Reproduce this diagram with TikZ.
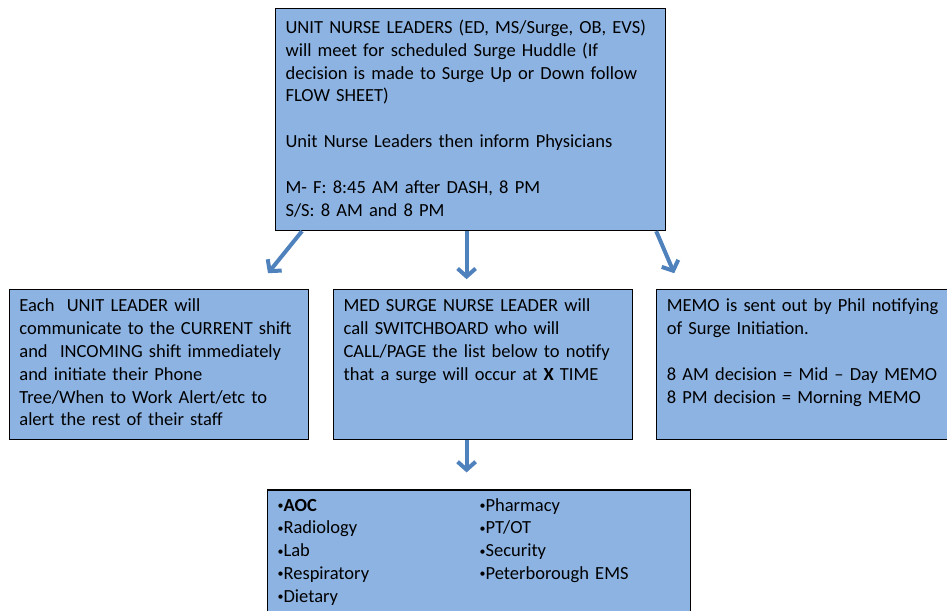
\documentclass[tikz,border=0pt]{standalone}
\usepackage{fontspec}
\setmainfont{Carlito}
\usetikzlibrary{arrows.meta,positioning}
\definecolor{BoxBlue}{HTML}{8DB3E2}
\definecolor{ArrowBlue}{HTML}{4F81BD}
\newcommand{\listdot}{{\fontsize{12}{12}\selectfont\raisebox{1.5pt}{•}}}

\begin{document}
\begin{tikzpicture}[
  x=1pt, y=-1pt,
  box/.style={draw=black, line width=1.2pt, fill=BoxBlue, align=left,
              inner xsep=10pt, inner ysep=0pt, text height=22pt, text depth=128pt,
              font=\fontsize{18.5}{22.8}\selectfont},
  arrow/.style={-{Straight Barb[length=8pt,width=18pt]}, line width=4pt, draw=ArrowBlue}
]
\useasboundingbox (0,0) rectangle (947,610);
\node[box, anchor=north west, text width=370pt, text height=25pt, text depth=197pt] (huddle) at (275,8)
  {UNIT NURSE LEADERS (ED, MS/Surge, OB, EVS)\\ will meet for scheduled Surge Huddle (If\\ decision is made to Surge Up or Down follow\\ FLOW SHEET)\\[22.8pt]
   Unit Nurse Leaders then inform Physicians\\[22.8pt]
   M- F: 8:45 AM after DASH, 8 PM\\ S/S: 8 AM and 8 PM};
\node[box, text width=279pt, below=58pt of huddle.south west, anchor=north west, xshift=58pt] (switch)
  {MED SURGE NURSE LEADER will\\ call SWITCHBOARD who will\\ CALL/PAGE the list below to notify\\ that a surge will occur at \textbf{X} TIME};
\node[box, text width=279pt, left=24pt of switch] (unit)
  {Each\ \ UNIT LEADER will\\ communicate to the CURRENT shift\\ and\ \ INCOMING shift immediately\\ and initiate their Phone\\ Tree/When to Work Alert/etc to\\ alert the rest of their staff};
\node[box, text width=280pt, right=23pt of switch] (memo)
  {MEMO is sent out by Phil notifying\\ of Surge Initiation.\\[22.8pt]
   8 AM decision = Mid -- Day MEMO\\ 8 PM decision = Morning MEMO};
\node[box, text width=403pt, text height=21pt, text depth=130pt, below=49pt of switch.south west, anchor=north west, xshift=-66pt] (notify)
  {\begin{tabular}[t]{@{}p{202pt}@{}l@{}}
   \listdot\textbf{AOC} & \listdot Pharmacy\\
   \listdot Radiology & \listdot PT/OT\\
   \listdot Lab & \listdot Security\\
   \listdot Respiratory & \listdot Peterborough EMS\\
   \listdot Dietary &
   \end{tabular}};
\draw[arrow] ([xshift=27pt]huddle.south west) -- ([xshift=-41pt,yshift=16pt]unit.north east);
\draw[arrow] ([xshift=-4pt]huddle.south) -- ([xshift=-16.5pt,yshift=10pt]switch.north);
\draw[arrow] ([xshift=-10pt]huddle.south east) -- ([xshift=18pt,yshift=16pt]memo.north west);
\draw[arrow] ([xshift=-16.5pt]switch.south) -- ([xshift=-12.5pt,yshift=17pt]notify.north);
\end{tikzpicture}
\end{document}
